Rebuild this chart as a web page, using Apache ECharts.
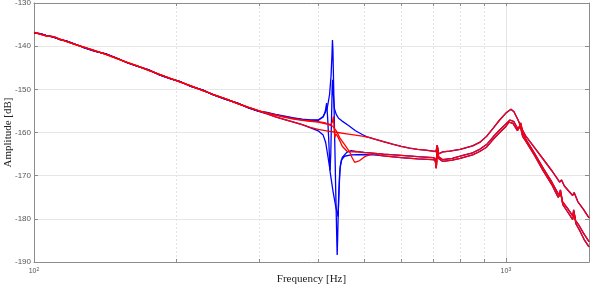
<!DOCTYPE html>
<html><head><meta charset="utf-8">
<script src="https://cdn.jsdelivr.net/npm/echarts@6/dist/echarts.min.js"></script>
<style>html,body{margin:0;padding:0;background:#fff}#c{width:598px;height:288px}</style>
</head><body><div id="c"></div>
<script>
// Tick definitions
const xMajorTicks = [100, 1000];
const xMinorTicks = [200, 300, 400, 500, 600, 700, 800, 900];
const yTicks = [-190, -180, -170, -160, -150, -140, -130];

// Low-frequency mass line (shared measured segment, 100-300 Hz)
const preRed = [[100,-136.8],[103,-137.2],[106,-137.6],[110,-137.8],[113,-138.3],[117,-138.9],[122,-139.6],[128,-140.3],[135,-141.1],[142,-141.9],[150,-142.9],[158,-143.8],[166,-144.6],[175,-145.6],[185,-146.6],[195,-147.5],[205,-148.4],[215,-149.2],[228,-150.3],[240,-151.2],[255,-152.2],[270,-153.3],[285,-154.2],[300,-155.0]];
const preBlue = [[100,-136.9],[103,-137.1],[106,-137.5],[110,-137.9],[113,-138.4],[117,-138.8],[122,-139.5],[128,-140.4],[135,-141.2],[142,-141.8],[150,-142.8],[158,-143.9],[166,-144.7],[175,-145.5],[185,-146.7],[195,-147.6],[205,-148.3],[215,-149.3],[228,-150.2],[240,-151.3],[255,-152.3],[270,-153.2],[285,-154.3],[300,-155.1]];

// Configuration 1 (no mode near 430 Hz)
const r1Mid = [[310,-155.6],[325,-156.4],[340,-157.0],[355,-157.6],[370,-158.2],[385,-158.8],[400,-159.3],[420,-159.7],[440,-160.0],[460,-160.3],[480,-160.6],[500,-160.9],[510,-161.1]];
const b1Mid = [[310,-155.6],[325,-156.4],[340,-157.0],[355,-157.6],[370,-158.2],[387,-159.0],[400,-159.6],[410,-160.6],[415,-162.3],[418,-164.4],[421,-166.5],[424,-168.8],[425.5,-165.0],[427,-157.0],[428.5,-149.0],[429.5,-147.8],[431,-151.5],[433,-154.4],[437,-155.8],[442,-156.7],[449,-157.3],[464,-158.4],[480,-159.6],[495,-160.4],[510,-161.1]];
const cfg1Tail = [[525,-161.5],[550,-162.1],[575,-162.7],[600,-163.2],[625,-163.6],[650,-163.9],[675,-164.1],[700,-164.3],[711,-164.4],[715,-162.9],[718,-165.0],[722,-164.6],[735,-164.5],[760,-164.3],[800,-163.9],[850,-163.1],[880,-162.3],[910,-160.9],[940,-159.0],[970,-157.1],[1000,-155.5],[1025,-154.6],[1040,-155.2],[1060,-157.0],[1080,-159.1],[1100,-160.7],[1150,-163.5],[1200,-166.2],[1250,-168.8],[1300,-171.5],[1312,-171.0],[1330,-172.4],[1360,-173.6],[1385,-174.6],[1395,-173.9],[1420,-176.0],[1460,-177.8],[1500,-179.8]];

// Configuration 2 (strong mode at ~430 Hz)
const r2Mid = [[310,-155.4],[325,-155.9],[340,-156.4],[355,-156.8],[370,-157.1],[385,-157.3],[400,-157.5],[415,-157.8],[425,-158.2],[429,-157.6],[431,-156.3],[432.5,-158.8],[434,-161.2],[436,-160.3],[440,-160.9],[445,-162.0],[450,-163.2],[460,-164.3],[470,-164.5]];
const b2Mid = [[310,-155.3],[325,-155.8],[340,-156.2],[355,-156.6],[370,-156.9],[385,-157.1],[400,-157.1],[410,-156.3],[418,-154.5],[423,-151.2],[426,-147.0],[428,-142.0],[429,-138.6],[430,-141.0],[432,-152.0],[434,-163.0],[436,-174.0],[438,-184.0],[439,-188.4],[440,-184.5],[442,-175.5],[444,-170.2],[446,-167.6],[450,-165.8],[460,-164.6],[470,-164.2]];
const cfg2Tail = [[480,-164.4],[500,-164.6],[550,-165.0],[600,-165.3],[650,-165.6],[700,-165.8],[708,-166.0],[712,-168.3],[716,-163.2],[720,-165.6],[735,-166.3],[770,-166.0],[800,-165.5],[850,-164.7],[880,-163.9],[910,-162.8],[940,-161.0],[970,-159.4],[1000,-158.0],[1020,-157.1],[1040,-157.5],[1062,-159.3],[1075,-157.8],[1088,-160.4],[1100,-161.4],[1150,-164.8],[1200,-168.3],[1250,-171.4],[1295,-174.5],[1305,-173.3],[1318,-176.0],[1350,-177.5],[1385,-179.3],[1392,-177.9],[1405,-180.4],[1430,-181.6],[1460,-183.3],[1500,-185.3]];

// Configuration 3 (weaker mode at ~417 Hz)
const r3Mid = [[310,-155.5],[325,-156.0],[340,-156.5],[355,-156.9],[370,-157.2],[385,-157.4],[400,-157.6],[420,-158.1],[430,-158.6],[437,-159.6],[445,-161.3],[456,-162.9],[466,-164.4],[472,-165.8],[478,-166.9],[490,-166.5],[502,-165.6],[523,-164.9],[537,-165.2]];
const b3Mid = [[310,-155.4],[325,-155.9],[340,-156.3],[355,-156.7],[370,-157.0],[385,-157.2],[400,-157.2],[410,-156.4],[414,-155.2],[417,-153.2],[419,-156.5],[421,-161.0],[424,-169.0],[430,-173.5],[436,-177.2],[441,-179.5],[443,-173.5],[445,-168.5],[448,-166.4],[455,-165.5],[470,-165.2],[500,-165.1],[525,-165.2]];
const cfg3Tail = [[550,-165.4],[600,-165.8],[650,-166.1],[700,-166.3],[708,-166.4],[712,-168.2],[716,-163.4],[720,-166.0],[735,-166.7],[770,-166.4],[800,-166.0],[850,-165.2],[880,-164.4],[910,-163.4],[940,-161.6],[970,-160.0],[1000,-158.6],[1015,-157.6],[1035,-157.9],[1058,-159.6],[1072,-158.4],[1085,-160.9],[1100,-161.9],[1150,-165.3],[1200,-168.9],[1250,-172.0],[1290,-175.0],[1300,-175.4],[1307,-174.2],[1320,-176.7],[1350,-178.3],[1385,-180.2],[1394,-178.6],[1408,-181.2],[1435,-182.8],[1465,-184.8],[1500,-186.5]];

const blueSeries = [preBlue.concat(b1Mid, cfg1Tail), preBlue.concat(b2Mid, cfg2Tail), preBlue.concat(b3Mid, cfg3Tail)];
const redSeries = [preRed.concat(r1Mid, cfg1Tail), preRed.concat(r2Mid, cfg2Tail), preRed.concat(r3Mid, cfg3Tail)];

const axisGray = '#8c8c8c';
const chart = echarts.init(document.getElementById('c'), null, {renderer: 'canvas'});
const mk = (data, color) => ({type: 'line', data: data, symbol: 'none', showSymbol: false, silent: true,
  lineStyle: {color: color, width: 1.3}, xAxisIndex: 0, yAxisIndex: 0, animation: false});
const series = [];
blueSeries.forEach(d => series.push(mk(d, '#0000ff')));
redSeries.forEach(d => series.push(mk(d, '#ff0000')));

chart.setOption({
  animation: false,
  backgroundColor: '#fff',
  grid: {left: 34, right: 9, top: 3, bottom: 26, containLabel: false, outerBoundsMode: 'none'},
  xAxis: [
    {type: 'log', logBase: 10, min: 100, max: 1500, position: 'bottom',
     axisLine: {show: true, lineStyle: {color: axisGray, width: 1}},
     axisTick: {show: true, inside: true, length: 3, customValues: xMinorTicks, lineStyle: {color: axisGray}},
     axisLabel: {show: false},
     splitLine: {show: true, lineStyle: {color: '#e4e4e4', type: [2, 2], width: 1}},
     name: 'Frequency [Hz]', nameLocation: 'middle', nameGap: 12, nameMoveOverlap: false,
     nameTextStyle: {fontFamily: 'Liberation Serif', fontSize: 11, color: '#222'}},
    {type: 'log', logBase: 10, min: 100, max: 1500, position: 'bottom',
     axisLine: {show: false},
     axisTick: {show: true, inside: true, length: 4, customValues: [1000], lineStyle: {color: axisGray}},
     axisLabel: {show: true, customValues: xMajorTicks, margin: 5, color: '#555', fontSize: 7,
       fontFamily: 'Liberation Sans',
       formatter: v => '10{s|' + Math.round(Math.log10(v)) + '}',
       rich: {s: {fontSize: 5, verticalAlign: 'top', color: '#555', padding: [0, 0, 4, 0]}}},
     splitLine: {show: true, lineStyle: {color: '#e4e4e4', width: 1}}},
    {type: 'log', logBase: 10, min: 100, max: 1500, position: 'top',
     axisLine: {show: true, lineStyle: {color: axisGray, width: 1}},
     axisTick: {show: true, inside: true, length: 3, customValues: xMinorTicks.concat([1000]), lineStyle: {color: axisGray}},
     axisLabel: {show: false}, splitLine: {show: false}}
  ],
  yAxis: [
    {type: 'value', min: -190, max: -130, interval: 10, position: 'left',
     axisLine: {show: true, lineStyle: {color: axisGray, width: 1}},
     axisTick: {show: true, inside: true, length: 4, lineStyle: {color: axisGray}},
     axisLabel: {show: true, margin: 3, color: '#555', fontSize: 8, fontFamily: 'Liberation Sans'},
     splitLine: {show: true, lineStyle: {color: '#e6e6e6', width: 1}},
     name: 'Amplitude [dB]', nameLocation: 'middle', nameGap: 20, nameRotate: 90, nameMoveOverlap: false,
     nameTextStyle: {fontFamily: 'Liberation Serif', fontSize: 11, color: '#222'}},
    {type: 'value', min: -190, max: -130, interval: 10, position: 'right',
     axisLine: {show: true, lineStyle: {color: axisGray, width: 1}},
     axisTick: {show: true, inside: true, length: 4, lineStyle: {color: axisGray}},
     axisLabel: {show: false}, splitLine: {show: false}}
  ],
  series: series
});
</script></body></html>
